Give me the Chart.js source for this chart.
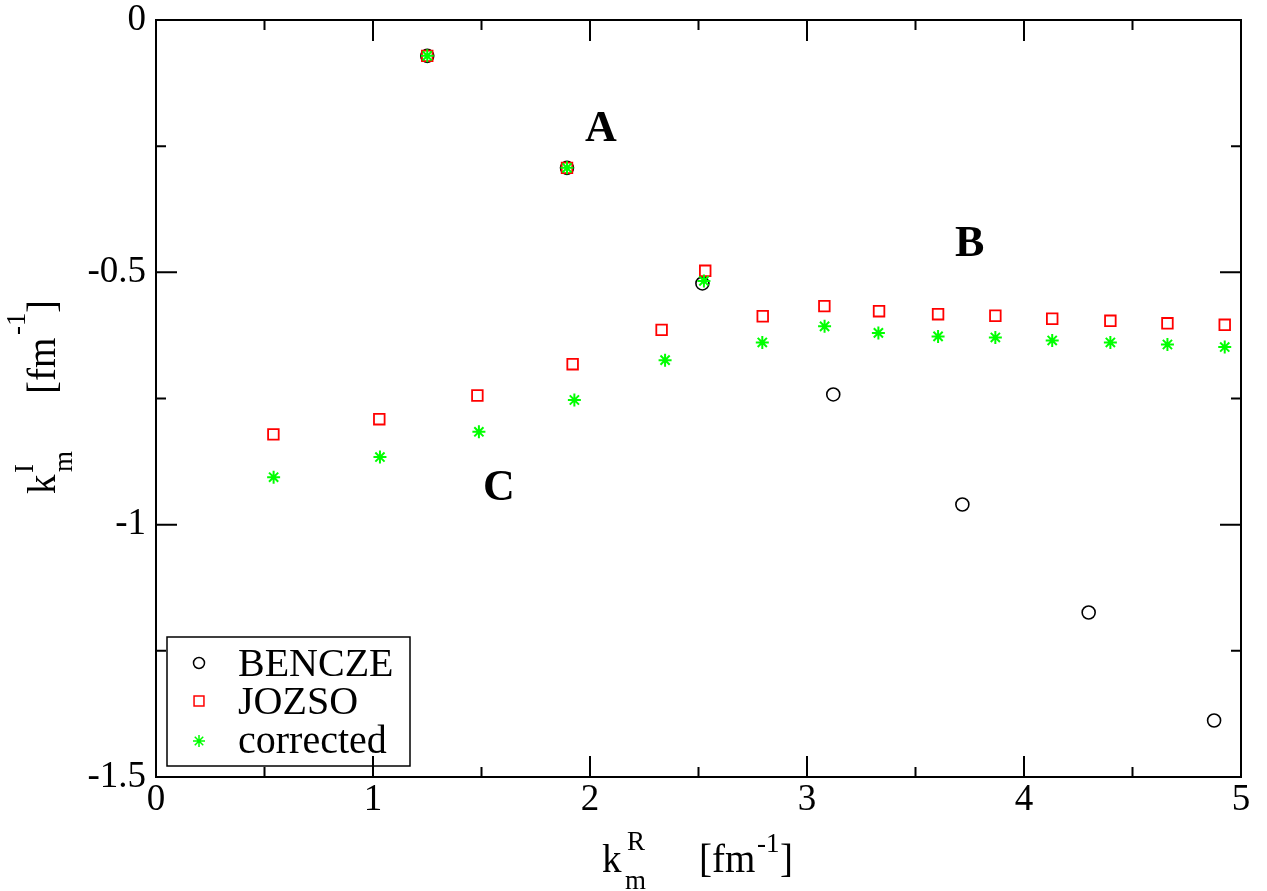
<!DOCTYPE html>
<html>
<head>
<meta charset="utf-8">
<script src="https://cdn.jsdelivr.net/npm/chart.js@4.4.0/dist/chart.umd.min.js"></script>
<style>
  body { margin: 0; background: #fff; }
</style>
</head>
<body>
<canvas id="grafico" width="1267" height="891"></canvas>
<script>
// datos
var benczeX = [1.250, 1.894, 2.518, 3.121, 3.716, 4.298, 4.876];
var benczeY = [-0.071, -0.293, -0.522, -0.742, -0.960, -1.174, -1.388];

var jozsoX = [0.541, 1.029, 1.250, 1.481, 1.894, 1.920, 2.330, 2.531, 2.796, 3.080, 3.332, 3.604, 3.868, 4.130, 4.398, 4.661, 4.925];
var jozsoY = [-0.821, -0.791, -0.071, -0.744, -0.293, -0.682, -0.614, -0.497, -0.587, -0.567, -0.577, -0.583, -0.586, -0.592, -0.596, -0.601, -0.604];

var corrX = [0.542, 1.032, 1.250, 1.488, 1.894, 1.928, 2.346, 2.525, 2.794, 3.081, 3.329, 3.604, 3.868, 4.130, 4.398, 4.661, 4.925];
var corrY = [-0.906, -0.866, -0.071, -0.816, -0.293, -0.753, -0.674, -0.517, -0.639, -0.607, -0.620, -0.627, -0.629, -0.635, -0.639, -0.643, -0.648];

var xTicks = [0, 1, 2, 3, 4, 5];
var xMinor = [0.5, 1.5, 2.5, 3.5, 4.5];
var yTicks = [0, -0.5, -1, -1.5];
var yMinor = [-0.25, -0.75, -1.25];

var etiquetas = ['A', 'B', 'C'];
var etiqX = [2.05, 3.75, 1.58];
var etiqY = [-0.214, -0.442, -0.925];

var serif = '"Liberation Serif", "DejaVu Serif", serif';

function puntos(xs, ys) {
  var res = [];
  for (var i = 0; i < xs.length; i++) res.push({ x: xs[i], y: ys[i] });
  return res;
}

// marco, marcas hacia adentro, leyenda, titulos y letras
var marcoPlugin = {
  id: 'marco',
  beforeDatasetsDraw: function (chart) {
    var ctx = chart.ctx, a = chart.chartArea;
    var sx = chart.scales.x, sy = chart.scales.y;
    ctx.save();
    ctx.strokeStyle = '#000';
    ctx.lineWidth = 2;
    ctx.strokeRect(a.left, a.top, a.right - a.left, a.bottom - a.top);
    ctx.beginPath();
    function marcasX(vals, largo) {
      vals.forEach(function (v) {
        var px = sx.getPixelForValue(v);
        ctx.moveTo(px, a.bottom); ctx.lineTo(px, a.bottom - largo);
        ctx.moveTo(px, a.top); ctx.lineTo(px, a.top + largo);
      });
    }
    function marcasY(vals, largo) {
      vals.forEach(function (v) {
        var py = sy.getPixelForValue(v);
        ctx.moveTo(a.left, py); ctx.lineTo(a.left + largo, py);
        ctx.moveTo(a.right, py); ctx.lineTo(a.right - largo, py);
      });
    }
    marcasX(xTicks, 21);
    marcasX(xMinor, 10);
    marcasY(yTicks, 21);
    marcasY(yMinor, 10);
    ctx.stroke();
    ctx.restore();
  },
  afterDraw: function (chart) {
    var ctx = chart.ctx;
    var sx = chart.scales.x, sy = chart.scales.y;
    ctx.save();
    ctx.fillStyle = '#000';

    // letras A B C
    ctx.font = 'bold 44px ' + serif;
    ctx.textAlign = 'center';
    ctx.textBaseline = 'middle';
    for (var i = 0; i < etiquetas.length; i++) {
      ctx.fillText(etiquetas[i], sx.getPixelForValue(etiqX[i]), sy.getPixelForValue(etiqY[i]) + 2);
    }

    // titulo eje x
    ctx.textAlign = 'left';
    ctx.textBaseline = 'alphabetic';
    ctx.font = '39px ' + serif;
    ctx.fillText('k', 602, 872);
    ctx.fillText('[fm', 699, 872);
    ctx.fillText(']', 780, 872);
    ctx.font = '27px ' + serif;
    ctx.fillText('R', 627, 850);
    ctx.fillText('m', 625, 889);
    ctx.fillText('-1', 757, 852);

    // titulo eje y
    ctx.save();
    ctx.translate(55, 494);
    ctx.rotate(-Math.PI / 2);
    ctx.font = '39px ' + serif;
    ctx.fillText('k', 0, 0);
    ctx.fillText('[fm', 100, 0);
    ctx.fillText(']', 181, 0);
    ctx.font = '27px ' + serif;
    ctx.fillText('I', 21, -22);
    ctx.fillText('m', 22, 17);
    ctx.fillText('-1', 159, -30);
    ctx.restore();

    // leyenda
    ctx.lineWidth = 1.5;
    ctx.strokeStyle = '#000';
    ctx.strokeRect(167, 637, 243, 129);
    var filas = [
      { texto: 'BENCZE', y: 663, base: 676, opc: { pointStyle: 'circle', radius: 5.5, borderWidth: 1.5 }, color: '#000' },
      { texto: 'JOZSO', y: 701, base: 714, opc: { pointStyle: 'rect', radius: 7, borderWidth: 1.6 }, color: '#ff0000' },
      { texto: 'corrected', y: 741, base: 753, opc: { pointStyle: 'star', radius: 6, borderWidth: 2 }, color: '#00ff00' }
    ];
    ctx.font = '40px ' + serif;
    filas.forEach(function (f) {
      ctx.save();
      ctx.strokeStyle = f.color;
      ctx.fillStyle = 'rgba(0,0,0,0)';
      Chart.helpers.drawPoint(ctx, f.opc, 199, f.y);
      ctx.restore();
      ctx.fillText(f.texto, 238, f.base);
    });
    ctx.restore();
  }
};

new Chart(document.getElementById('grafico'), {
  type: 'scatter',
  data: {
    datasets: [{
      label: 'BENCZE',
      data: puntos(benczeX, benczeY),
      pointStyle: 'circle',
      pointRadius: 6.5,
      pointBorderWidth: 1.6,
      borderColor: '#000',
      backgroundColor: 'rgba(0,0,0,0)',
      order: 3
    }, {
      label: 'JOZSO',
      data: puntos(jozsoX, jozsoY),
      pointStyle: 'rect',
      pointRadius: 7.5,
      pointBorderWidth: 1.8,
      borderColor: '#ff0000',
      backgroundColor: 'rgba(0,0,0,0)',
      order: 2
    }, {
      label: 'corrected',
      data: puntos(corrX, corrY),
      pointStyle: 'star',
      pointRadius: 6.5,
      pointBorderWidth: 2,
      borderColor: '#00ff00',
      backgroundColor: '#00ff00',
      order: 1
    }]
  },
  options: {
    responsive: false,
    animation: false,
    events: [],
    layout: { padding: { top: 20, right: 26, left: 0, bottom: 0 } },
    plugins: {
      legend: { display: false },
      tooltip: { enabled: false }
    },
    scales: {
      x: {
        type: 'linear',
        min: 0,
        max: 5,
        grid: { display: false, drawTicks: false },
        border: { display: false },
        afterBuildTicks: function (s) { s.ticks = xTicks.map(function (v) { return { value: v }; }); },
        afterFit: function (s) { s.height = 114; s.paddingLeft = 0; s.paddingRight = 0; },
        ticks: {
          color: '#000',
          padding: 5,
          autoSkip: false,
          maxRotation: 0,
          font: { family: serif, size: 37, lineHeight: 1 },
          callback: function (v) { return String(v); }
        }
      },
      y: {
        type: 'linear',
        min: -1.5,
        max: 0,
        grid: { display: false, drawTicks: false },
        border: { display: false },
        afterBuildTicks: function (s) { s.ticks = yTicks.map(function (v) { return { value: v }; }); },
        afterFit: function (s) { s.width = 156; s.paddingTop = 0; s.paddingBottom = 0; },
        ticks: {
          color: '#000',
          padding: 10,
          autoSkip: false,
          font: { family: serif, size: 37, lineHeight: 1 },
          callback: function (v) { return String(v); }
        }
      }
    }
  },
  plugins: [marcoPlugin]
});
</script>
</body>
</html>
